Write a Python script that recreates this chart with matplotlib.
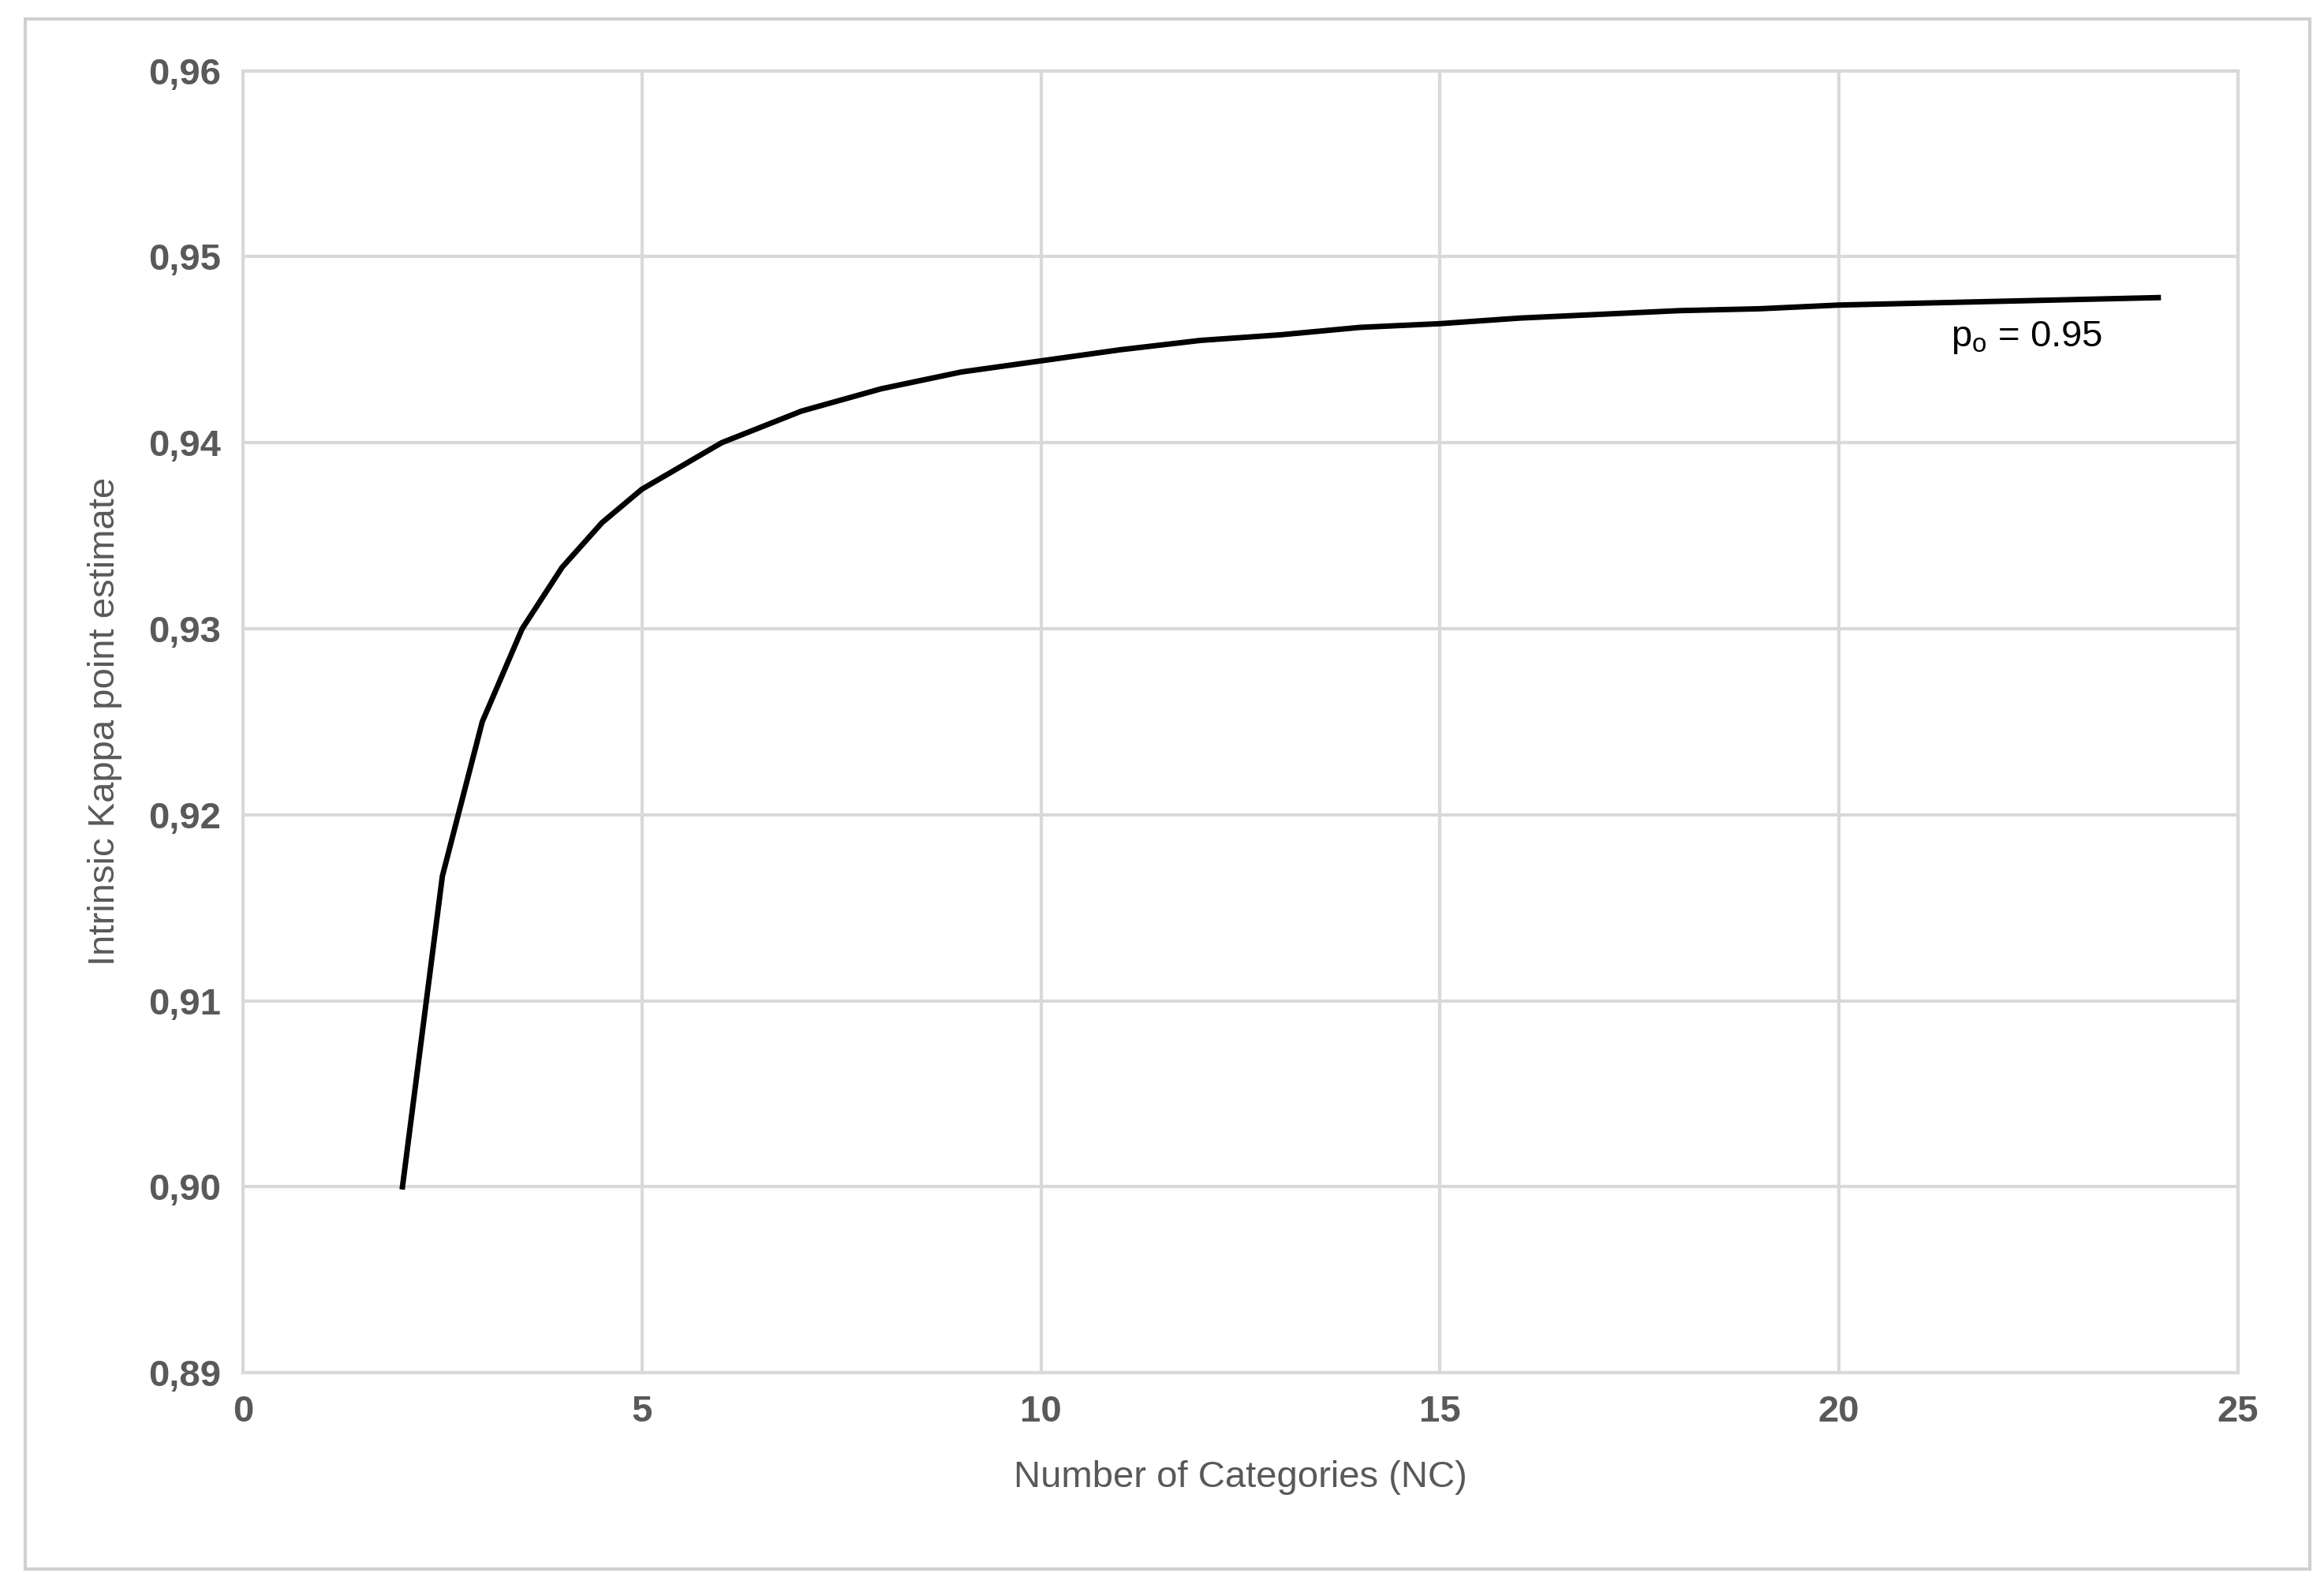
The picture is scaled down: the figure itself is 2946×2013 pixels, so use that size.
import numpy as np
import matplotlib.pyplot as plt
from matplotlib.patches import Rectangle
from matplotlib.ticker import FuncFormatter

plt.rcParams['font.family'] = ['Liberation Sans', 'DejaVu Sans']

nc = [2, 2.5, 3, 3.5, 4, 4.5, 5, 6, 7, 8, 9, 10, 11, 12, 13, 14, 15, 16, 17, 18, 19, 20,
      21, 22, 23, 24]
kappa = [0.9000, 0.9167, 0.9250, 0.9300, 0.9333, 0.9357, 0.9375, 0.9400, 0.9417, 0.9429,
         0.9438, 0.9444, 0.9450, 0.9455, 0.9458, 0.9462, 0.9464, 0.9467, 0.9469, 0.9471,
         0.9472, 0.9474, 0.9475, 0.9476, 0.9477, 0.9478]

fig = plt.figure(figsize=(14.73, 10.065), dpi=200)
fig.patches.append(Rectangle((0.011, 0.012), 0.983, 0.976, transform=fig.transFigure,
                             fill=False, edgecolor='#d0d0d0', lw=1.5))
ax = fig.add_axes([0.1045, 0.1355, 0.8585, 0.82])

ax.plot(nc, kappa, color='black', lw=2.5, solid_joinstyle='round')
ax.set_xlim(0, 25)
ax.set_ylim(0.89, 0.96)
ax.set_xticks(np.arange(0, 26, 5))
ax.set_yticks(np.arange(0.89, 0.9601, 0.01))
ax.yaxis.set_major_formatter(FuncFormatter(lambda v, p: f"{v:.2f}".replace('.', ',')))
ax.grid(True, color='#d9d9d9', lw=1.5)
ax.set_axisbelow(True)
for s in ax.spines.values():
    s.set_color('#d9d9d9')
    s.set_linewidth(1.5)
ax.tick_params(length=0, labelsize=17, labelcolor='#595959', pad=10)
for t in ax.get_xticklabels() + ax.get_yticklabels():
    t.set_fontweight('bold')

ax.set_xlabel('Number of Categories (NC)', fontsize=17, color='#595959', labelpad=14)
ax.set_ylabel('Intrinsic Kappa point estimate', fontsize=17, color='#595959', labelpad=12)
ax.text(21.4, 0.9452, r'p$_{\mathregular{o}}$ = 0.95', fontsize=17, color='black')

fig.savefig('out.png', dpi=200)
